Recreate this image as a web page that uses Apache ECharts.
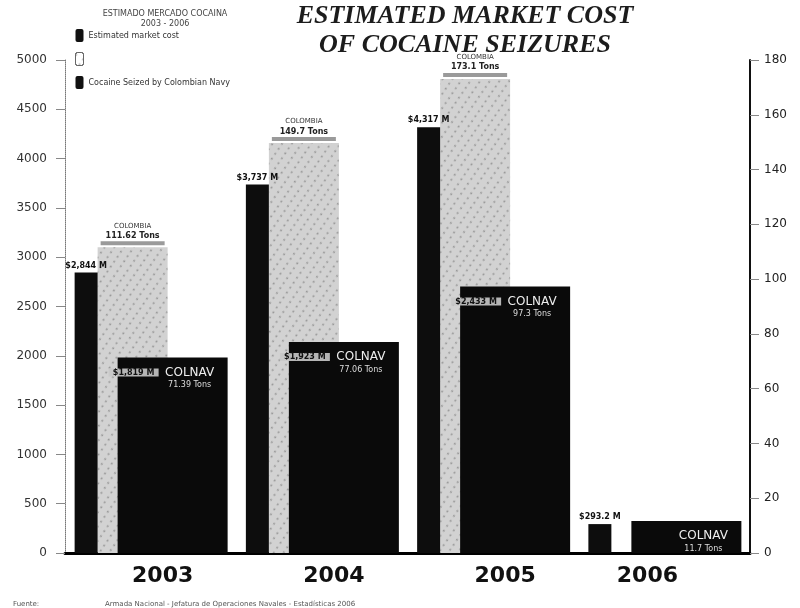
<!DOCTYPE html>
<html>
<head>
<meta charset="utf-8">
<script src="https://cdn.jsdelivr.net/npm/echarts@6/dist/echarts.min.js"></script>
<style>html,body{margin:0;padding:0;background:#fff;}#c{width:800px;height:608px;}</style>
</head>
<body>
<div id="c"></div>
<script>
// ---- data ----
const years = ['2003', '2004', '2005', '2006'];
const marketCost = [2844, 3737, 4317, 293.2];      // US$ millions (left axis)
const colombiaTons = [111.62, 149.7, 173.1, null];  // tons (right axis)
const navyTons = [71.39, 77.06, 97.3, 11.7];        // tons (right axis)
const navyCost = [1819, 1923, 2433, null];          // US$ millions (labels)
const leftAxis = { min: 0, max: 5000, interval: 500 };
const rightAxis = { min: 0, max: 180, interval: 20 };

function money(v) {
  return '$' + (v >= 1000 ? v.toLocaleString('en-US') : v.toFixed(1)) + ' M';
}

const chart = echarts.init(document.getElementById('c'));
const sans = 'DejaVu Sans';
const xData = years.map((y, i) => (i === years.length - 1 ? { value: y, textStyle: { padding: [0, 34, 0, 0] } } : y));

chart.setOption({
  backgroundColor: '#fff',
  animation: false,
  title: [
    {
      text: 'ESTIMATED MARKET COST\nOF COCAINE SEIZURES',
      left: 460, top: -3, textAlign: 'center',
      textStyle: { fontFamily: 'Liberation Serif', fontStyle: 'italic', fontWeight: 'bold', fontSize: 26, lineHeight: 29, color: '#1c1c1c' }
    },
    {
      text: 'ESTIMADO MERCADO COCAINA\n2003 - 2006',
      left: 160, top: 4, textAlign: 'center',
      textStyle: { fontFamily: sans, fontSize: 8, lineHeight: 10, color: '#444', fontWeight: 'normal' }
    },
    {
      text: 'Fuente:',
      left: 8, top: 596,
      textStyle: { fontFamily: sans, fontSize: 7, color: '#555', fontWeight: 'normal' }
    },
    {
      text: 'Armada Nacional - Jefatura de Operaciones Navales - Estadísticas 2006',
      left: 100, top: 596,
      textStyle: { fontFamily: sans, fontSize: 7, color: '#555', fontWeight: 'normal' }
    }
  ],
  legend: {
    orient: 'vertical', left: 70, top: 24, itemGap: 10, itemWidth: 8, itemHeight: 13,
    textStyle: { fontFamily: sans, fontSize: 8, color: '#333' },
    formatter: n => (n === 'Colombia' ? '' : n),
    data: [
      { name: 'Estimated market cost', itemStyle: { color: '#111' } },
      { name: 'Colombia', itemStyle: { color: '#fff', borderColor: '#666', borderWidth: 1 } },
      { name: 'Cocaine Seized by Colombian Navy', itemStyle: { color: '#111' } }
    ]
  },
  grid: { left: 65, right: 50, top: 60, bottom: 55 },
  xAxis: [
    {
      type: 'category', data: xData,
      axisLine: { show: true, lineStyle: { color: '#000', width: 3 } },
      axisTick: { show: false },
      axisLabel: { margin: 12, padding: [0, 0, 0, 24], fontFamily: sans, fontWeight: 'bold', fontSize: 22, color: '#111' }
    },
    { type: 'category', data: years, show: false }
  ],
  yAxis: [
    {
      type: 'value', position: 'left', min: leftAxis.min, max: leftAxis.max, interval: leftAxis.interval,
      axisLine: { show: true, lineStyle: { color: '#777', width: 1, type: 'dotted' } },
      axisTick: { show: true, length: 9, lineStyle: { color: '#888' } },
      axisLabel: { margin: 18, fontFamily: sans, fontSize: 12, color: '#333', formatter: v => String(v) },
      splitLine: { show: false }
    },
    {
      type: 'value', position: 'right', min: rightAxis.min, max: rightAxis.max, interval: rightAxis.interval,
      axisLine: { show: true, lineStyle: { color: '#111', width: 2 } },
      axisTick: { show: true, length: 9, lineStyle: { color: '#888' } },
      axisLabel: { margin: 14, fontFamily: sans, fontSize: 12, color: '#222' },
      splitLine: { show: false }
    }
  ],
  series: [
    {
      name: 'Estimated market cost', type: 'bar', xAxisIndex: 0, yAxisIndex: 0,
      data: marketCost, barWidth: 23, barGap: '0%', z: 3,
      itemStyle: { color: '#0d0d0d' },
      label: {
        show: true, position: 'top', distance: 3,
        formatter: p => money(p.value),
        fontFamily: sans, fontSize: 8, fontWeight: 'bold', color: '#111'
      }
    },
    {
      name: 'Colombia', type: 'bar', xAxisIndex: 0, yAxisIndex: 1,
      data: colombiaTons, barWidth: 70, barGap: '0%', z: 2,
      itemStyle: {
        color: '#d2d2d2',
        decal: { symbol: 'circle', symbolSize: 0.7, color: 'rgba(0,0,0,0.28)', dashArrayX: 4, dashArrayY: 3, rotation: 0.6 }
      },
      label: {
        show: true, position: 'top', distance: 2,
        formatter: p => '{a|COLOMBIA}\n{b|' + p.value + ' Tons}\n{s|}',
        rich: {
          a: { fontFamily: sans, fontSize: 7, color: '#333', align: 'center', lineHeight: 9 },
          b: { fontFamily: sans, fontSize: 8, fontWeight: 'bold', color: '#222', align: 'center', lineHeight: 11 },
          s: { width: 64, height: 4, backgroundColor: '#9a9a9a', align: 'center' }
        }
      }
    },
    {
      name: 'spacerA', type: 'bar', xAxisIndex: 0, yAxisIndex: 1,
      data: [], barWidth: 59, barGap: '0%', silent: true
    },
    {
      name: 'spacerB', type: 'bar', xAxisIndex: 1, yAxisIndex: 1,
      data: [], barWidth: 44, barGap: '0%', silent: true
    },
    {
      name: 'Cocaine Seized by Colombian Navy', type: 'bar', xAxisIndex: 1, yAxisIndex: 1,
      data: navyTons, barWidth: 110, barGap: '0%', z: 4,
      itemStyle: { color: '#0a0a0a' },
      label: {
        show: true, position: 'insideTop', offset: [-8, 3],
        formatter: p => {
          const c = navyCost[p.dataIndex];
          const head = c == null ? '{ce|}' : '{c|' + money(c) + '}';
          return head + '{n|COLNAV}\n{e|}{t|' + p.value + ' Tons}';
        },
        rich: {
          c: { width: 50, align: 'center', fontFamily: sans, fontSize: 8, fontWeight: 'bold', color: '#111', backgroundColor: 'rgba(200,200,200,0.9)', lineHeight: 14 },
          ce: { width: 50, lineHeight: 14 },
          n: { width: 62, align: 'center', fontFamily: sans, fontSize: 12, color: '#eee', lineHeight: 14 },
          e: { width: 50, lineHeight: 11 },
          t: { width: 62, align: 'center', fontFamily: sans, fontSize: 8, color: '#ddd', lineHeight: 11 }
        }
      }
    }
  ]
});
</script>
</body>
</html>
